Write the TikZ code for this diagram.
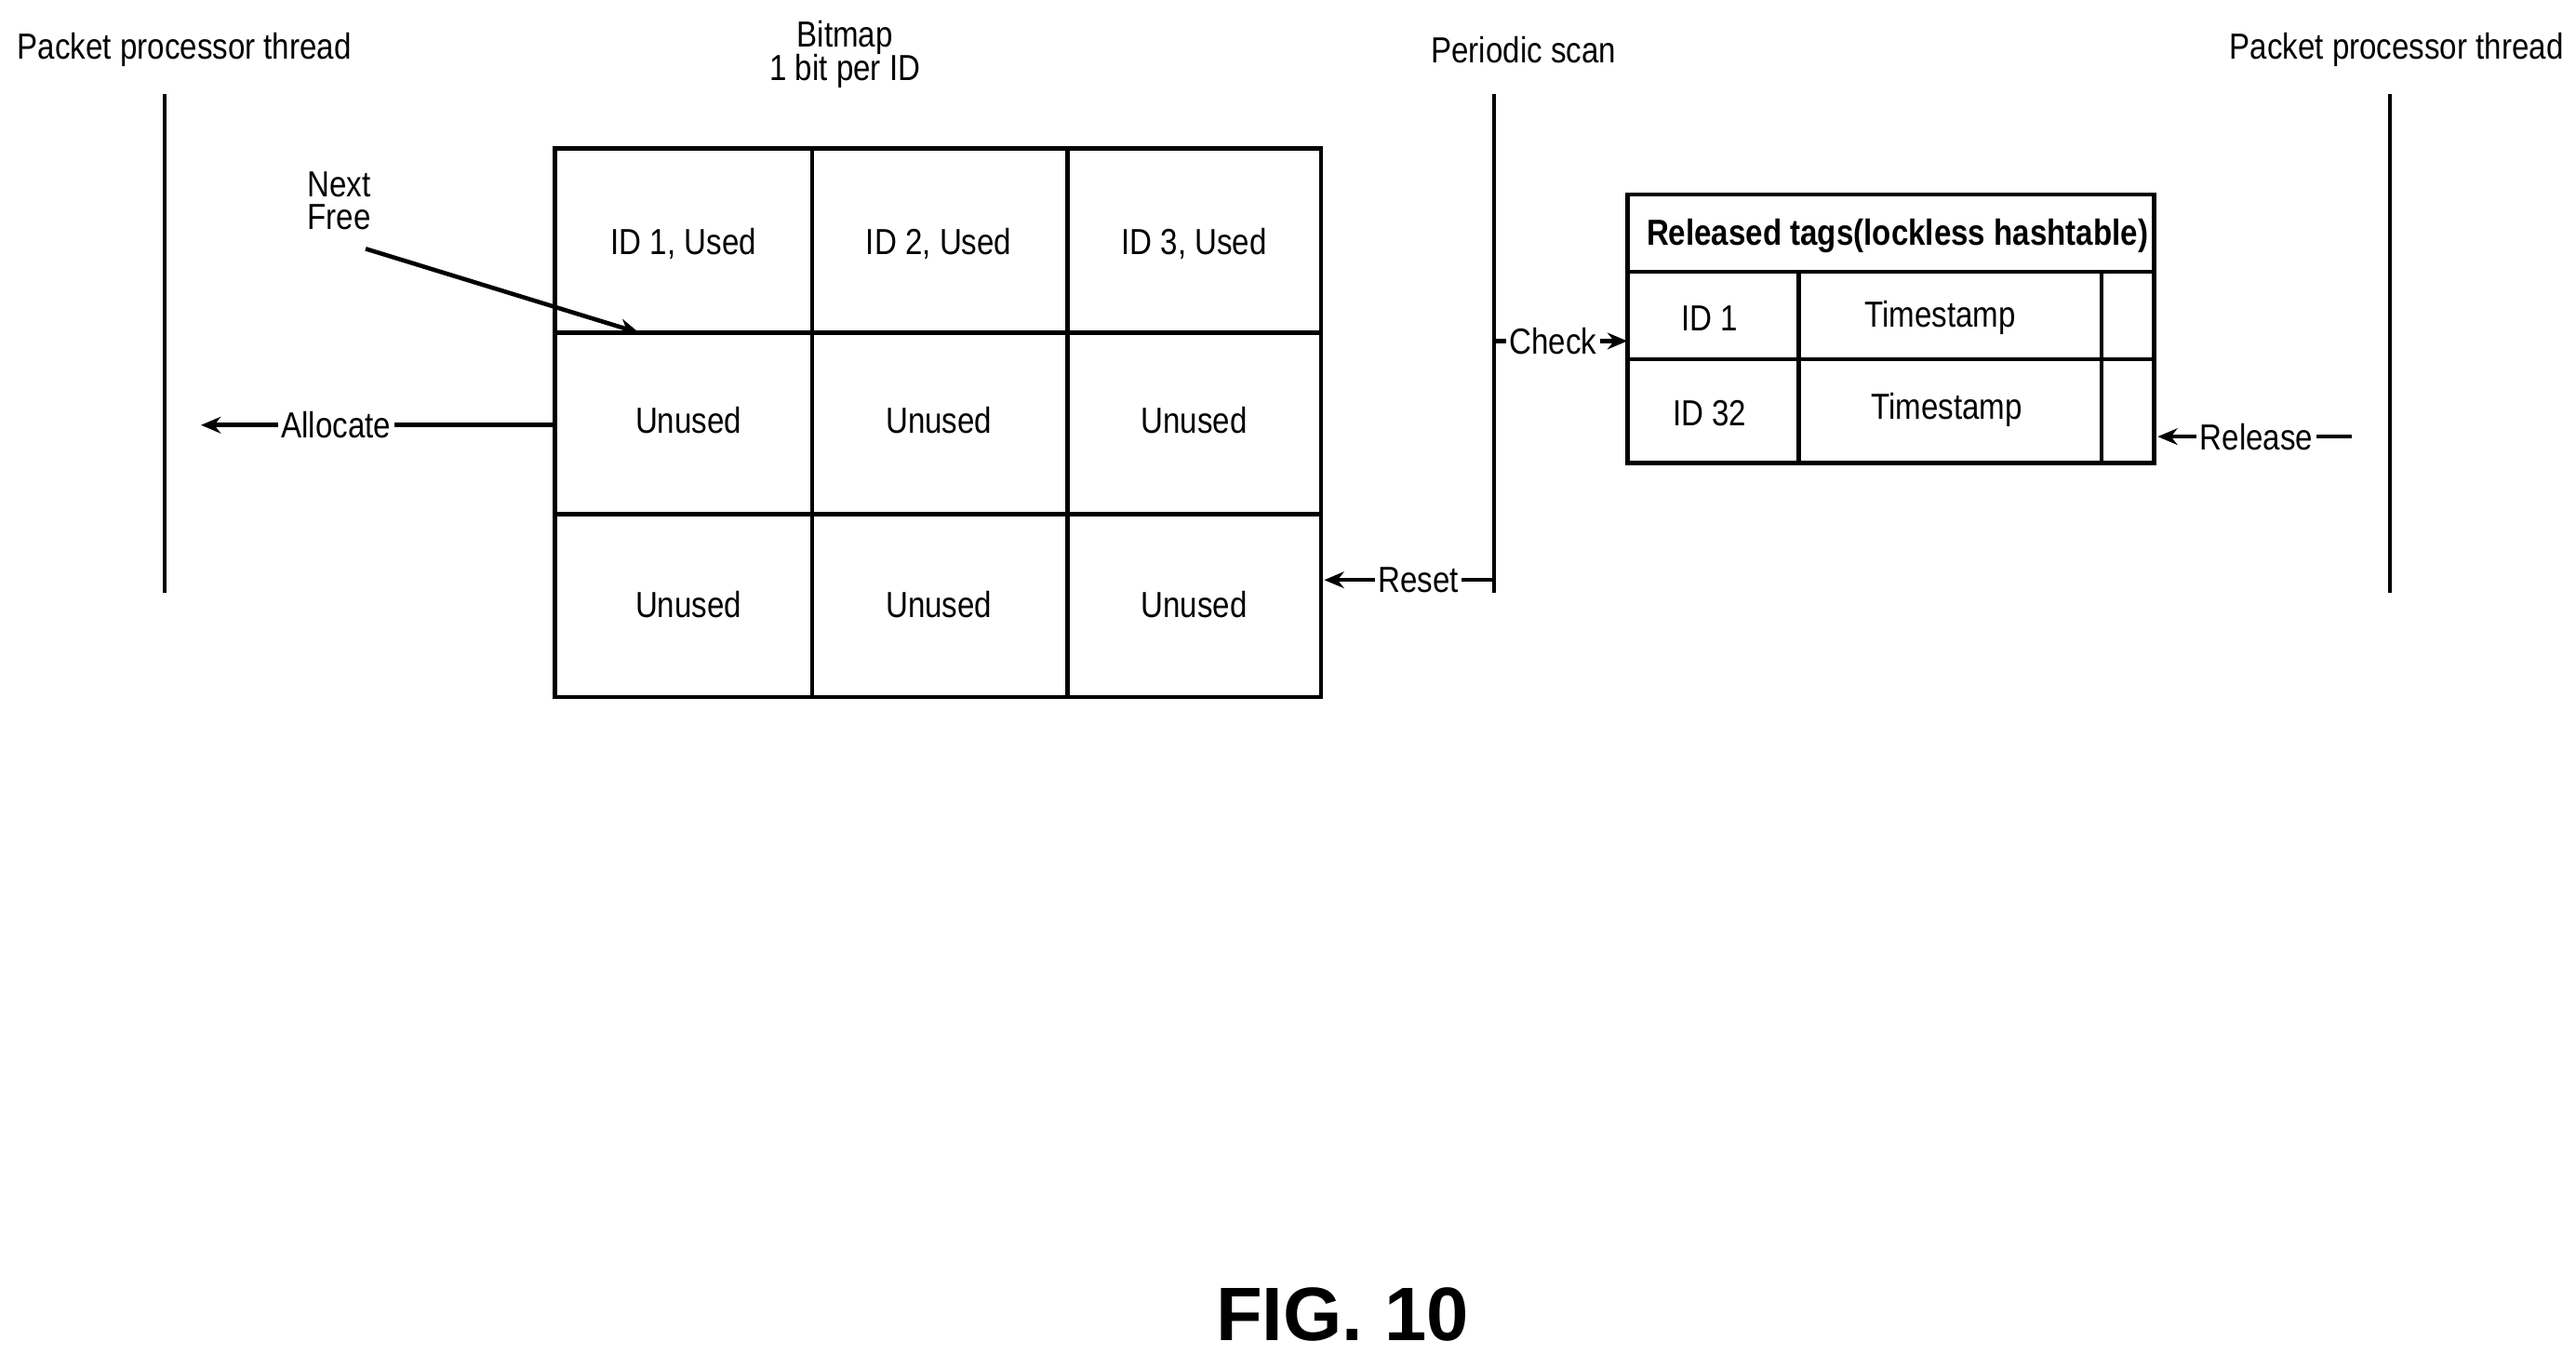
\documentclass[tikz,border=0pt]{standalone}
\usepackage{fontspec}
\setmainfont{Liberation Sans}
\usetikzlibrary{arrows.meta}
\begin{document}
\begin{tikzpicture}[x=0.5pt,y=-0.5pt,
  ln/.style={line width=1.3pt},
  lbl/.style={font=\fontsize{11}{12}\selectfont\addfontfeature{FakeStretch=0.85}, inner sep=1pt},
  arr/.style={ln,-{Stealth[length=6pt,width=5pt]}},
  tag/.style={lbl,fill=white}]
\useasboundingbox (0,0) rectangle (1564,822);
% titles
\node[lbl] (t1) at (112,30) {Packet processor thread};
\node[lbl,align=center] (t2) at (513,33) {Bitmap\\[-2pt]1 bit per ID};
\node[lbl] (t3) at (925,30) {Periodic scan};
\node[lbl] (t4) at (1455,30) {Packet processor thread};
% vertical lines
\coordinate (l1a) at (100,57); \coordinate (l1b) at (100,360);
\coordinate (l2a) at (907,57); \coordinate (l2b) at (907,360);
\coordinate (l3a) at (1451,57); \coordinate (l3b) at (1451,360);
\draw[ln] (l1a)--(l1b); \draw[ln] (l2a)--(l2b); \draw[ln] (l3a)--(l3b);
% grid
\draw[ln] (337,90) rectangle (802,423);
\draw[ln] (493,90)--(493,423) (648,90)--(648,423) (337,202)--(802,202) (337,312)--(802,312);
\foreach \t/\x/\y [count=\i] in {{ID 1, Used}/415/148,{ID 2, Used}/570/148,{ID 3, Used}/725/148,
  Unused/418/255,Unused/570/255,Unused/725/255,Unused/418/367,Unused/570/367,Unused/725/367}
  \node[lbl] (c\i) at (\x,\y) {\t};
% next free
\node[lbl,align=center] (nf) at (206,122) {Next\\[-2pt]Free};
\coordinate (nfs) at (222,151); \coordinate (nfe) at (388,202);
\draw[arr] (nfs)--(nfe);
% allocate
\coordinate (a1) at (337,258); \coordinate (a2) at (122,258);
\draw[arr] (a1)--(a2);
\node[tag] (al) at (204,258) {Allocate};
% reset
\coordinate (r1) at (907,352); \coordinate (r2) at (804,352);
\draw[arr] (r1)--(r2);
\node[tag] (rl) at (861,352) {Reset};
% check
\coordinate (k1) at (907,207); \coordinate (k2) at (988,207);
\draw[arr] (k1)--(k2);
\node[tag] (kl) at (943,207) {Check};
% released table
\draw[ln] (988,118) rectangle (1308,281);
\draw[ln] (988,165)--(1308,165) (988,218)--(1308,218) (1092,165)--(1092,281) (1276,165)--(1276,281);
\node[lbl,font=\fontsize{11}{12}\selectfont\bfseries\addfontfeature{FakeStretch=0.85}] (rh) at (1152,143) {Released tags(lockless hashtable)};
\node[lbl] (r11) at (1038,193) {ID 1};
\node[lbl] (r12) at (1178,193) {Timestamp};
\node[lbl] (r21) at (1038,251) {ID 32};
\node[lbl] (r22) at (1182,249) {Timestamp};
% release
\coordinate (e1) at (1428,265); \coordinate (e2) at (1310,265);
\draw[arr] (e1)--(e2);
\node[tag] (el) at (1370,265) {Release};
% fig
\node[font=\fontsize{23}{26}\selectfont\bfseries] (fig) at (815,798) {FIG. 10};
\end{tikzpicture}
\end{document}
